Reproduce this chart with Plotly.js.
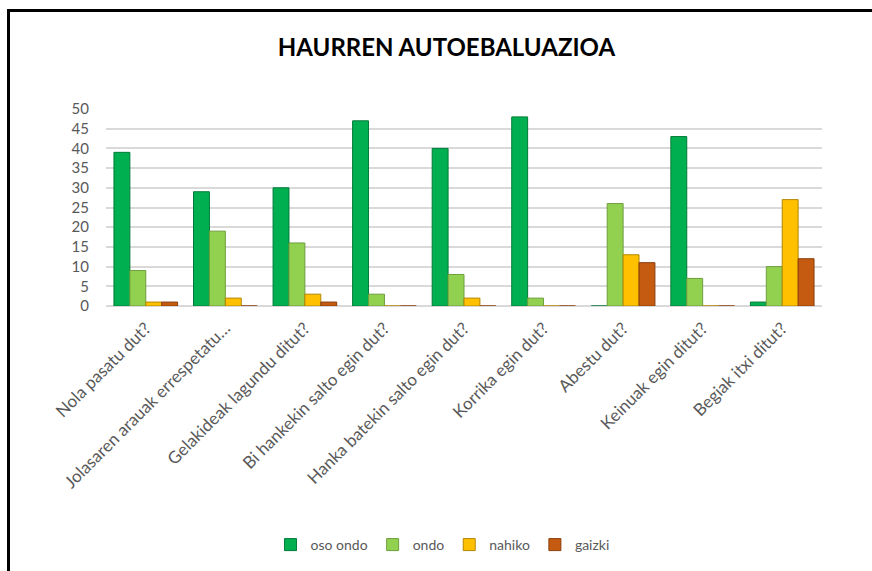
<!DOCTYPE html>
<html>
<head>
<meta charset="utf-8">
<script src="https://cdn.plot.ly/plotly-3.0.1.min.js"></script>
<style>
  html, body { margin: 0; padding: 0; background: #fff; }
  #wrap { position: relative; width: 872px; height: 571px; overflow: hidden; }
  #frame { position: absolute; left: 7px; top: 9px; width: 900px; height: 600px;
           border-top: 3px solid #000; border-left: 3px solid #000; pointer-events: none; z-index: 5; }
  #chart { position: absolute; left: 0; top: 0; width: 872px; height: 571px; }
</style>
</head>
<body>
<div id="wrap">
  <div id="chart"></div>
  <div id="frame"></div>
</div>
<script>
const categories = [
  "Nola pasatu dut?",
  "Jolasaren arauak errespetatu…",
  "Gelakideak lagundu ditut?",
  "Bi hankekin salto egin dut?",
  "Hanka batekin salto egin dut?",
  "Korrika egin dut?",
  "Abestu dut?",
  "Keinuak egin ditut?",
  "Begiak itxi ditut?"
];
const seriesNames = ["oso ondo", "ondo", "nahiko", "gaizki"];
const osoOndo = [39, 29, 30, 47, 40, 48, 0, 43, 1];
const ondo    = [9, 19, 16, 3, 8, 2, 26, 7, 10];
const nahiko  = [1, 2, 3, 0, 2, 0, 13, 0, 27];
const gaizki  = [1, 0, 1, 0, 0, 0, 11, 0, 12];
const colors = ["#00B050", "#92D050", "#FFC000", "#C55A11"];
const edgeColors = ["#007A38", "#6E9E3C", "#B38600", "#8A3F0C"];
const yTicks = [0, 5, 10, 15, 20, 25, 30, 35, 40, 45, 50];

const values = [osoOndo, ondo, nahiko, gaizki];
const traces = values.map((v, i) => ({
  type: "bar",
  name: seriesNames[i],
  x: categories,
  y: v,
  marker: { color: colors[i], line: { color: edgeColors[i], width: 1 } },
  hoverinfo: "x+y+name"
}));

const layout = {
  width: 872,
  height: 571,
  margin: { l: 106, r: 50, t: 109, b: 264 },
  paper_bgcolor: "#ffffff",
  plot_bgcolor: "#ffffff",
  font: { family: "Lato, 'Open Sans', sans-serif", color: "#595959", size: 14 },
  title: {
    text: "<b>HAURREN AUTOEBALUAZIOA</b>",
    font: { family: "Lato, 'Open Sans', sans-serif", size: 24, color: "#000000" },
    xref: "container", x: 0.512, xanchor: "center",
    yref: "container", y: 1 - 48/571, yanchor: "middle"
  },
  barmode: "group",
  bargap: 0.2,
  bargroupgap: 0,
  xaxis: {
    type: "category",
    tickangle: -45,
    tickfont: { size: 17, color: "#595959" },
    showgrid: false,
    showline: false,
    ticks: "",
    zeroline: false,
    ticklabelstandoff: 8
  },
  yaxis: {
    range: [0, 50],
    tickvals: yTicks,
    ticktext: yTicks.map(String),
    tickfont: { size: 15, color: "#595959" },
    showgrid: true,
    gridcolor: "#d9d9d9",
    gridwidth: 2,
    zeroline: true,
    zerolinecolor: "#d9d9d9",
    zerolinewidth: 2,
    showline: false,
    ticks: "",
    ticklabelstandoff: 16
  },
  legend: {
    orientation: "h",
    x: 0.47, xanchor: "center",
    y: -(545 - 307) / 198, yanchor: "middle",
    font: { size: 14, color: "#595959" },
    traceorder: "normal",
    itemwidth: 30
  },
  showlegend: true
};

Plotly.newPlot("chart", traces, layout, { displayModeBar: false, staticPlot: true });
</script>
</body>
</html>
